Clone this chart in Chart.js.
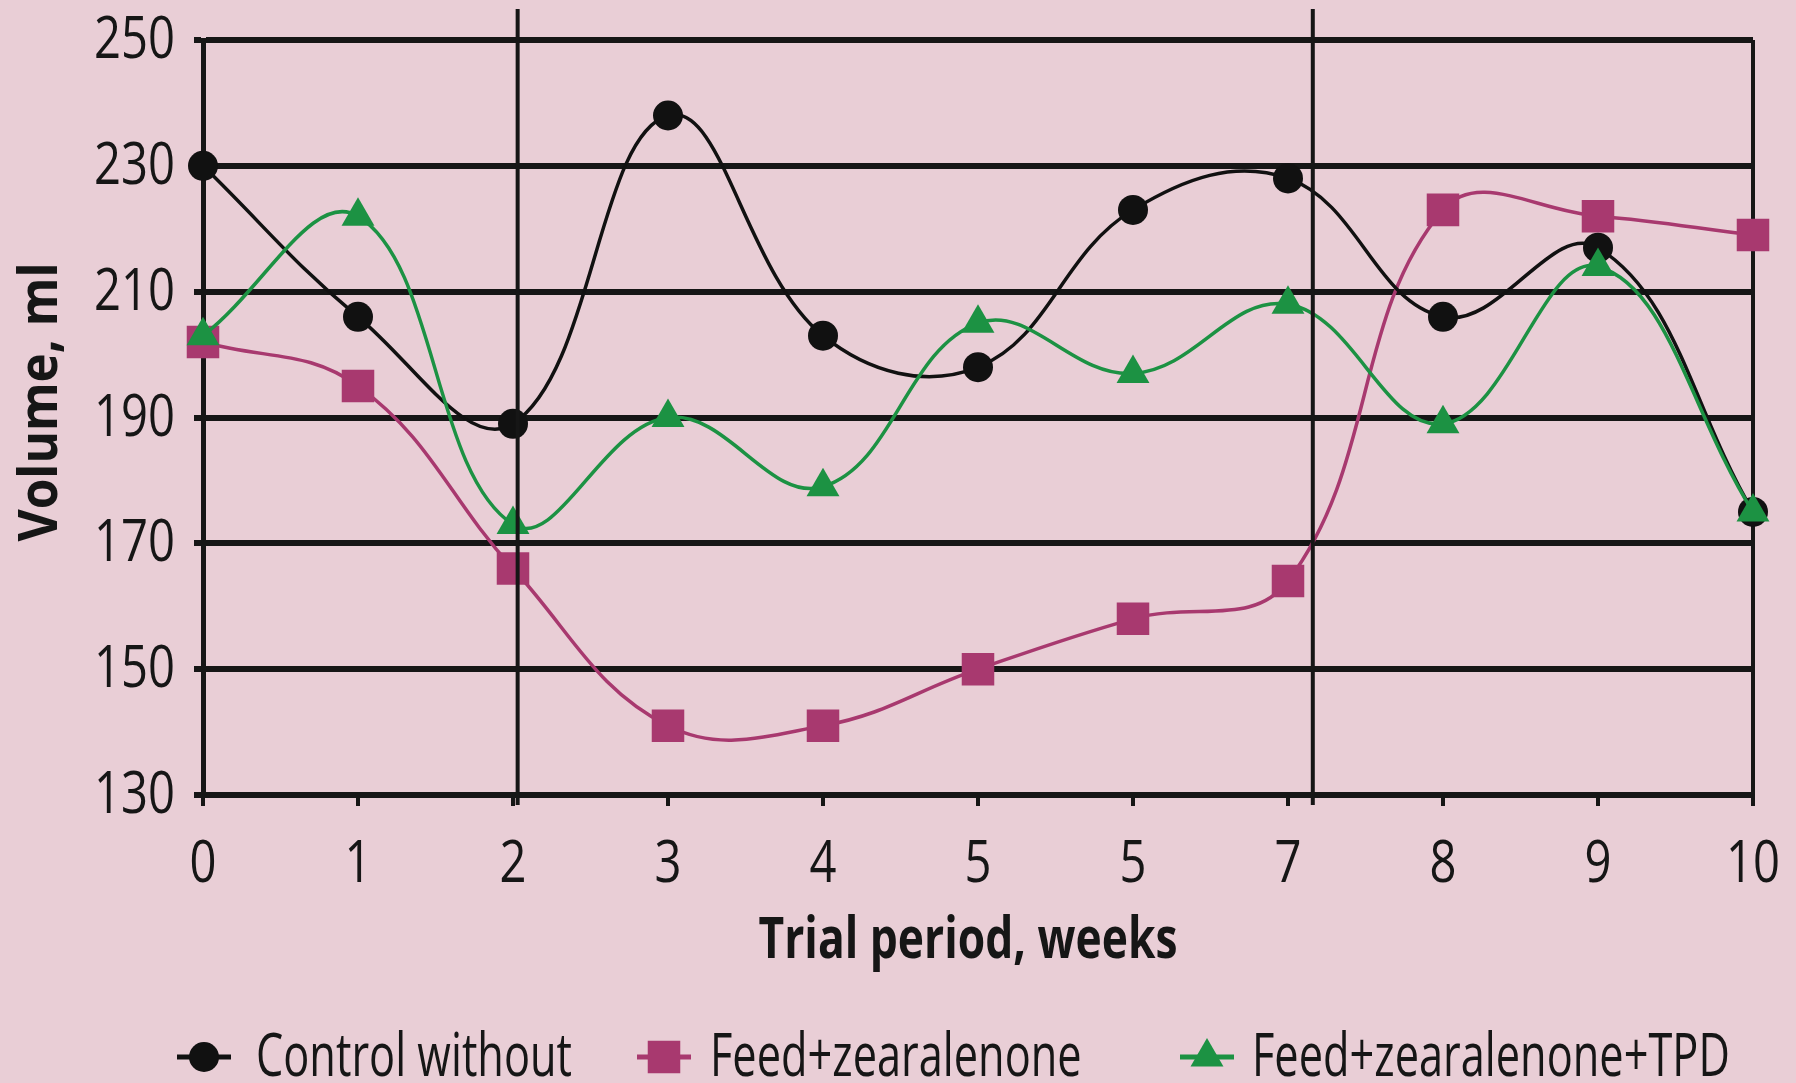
<!DOCTYPE html>
<html>
<head>
<meta charset="utf-8">
<script src="https://cdn.jsdelivr.net/npm/chart.js@4.4.1/dist/chart.umd.min.js"></script>
<style>
  html, body { margin: 0; padding: 0; background: #e9ced6; }
  #chart { display: block; }
</style>
</head>
<body>
<canvas id="chart" width="1796" height="1083"></canvas>
<script>
// values
const weeks = [0, 1, 2, 3, 4, 5, 6, 7, 8, 9, 10];
const weekLabels = ["0", "1", "2", "3", "4", "5", "5", "7", "8", "9", "10"];
const yTicks = [130, 150, 170, 190, 210, 230, 250];
const seriesNames = ["Control without", "Feed+zearalenone", "Feed+zearalenone+TPD"];
const control = [230, 206, 189, 238, 203, 198, 223, 228, 206, 217, 175];
const zearalenone = [202, 195, 166, 141, 141, 150, 158, 164, 223, 222, 219];
const zearalenoneTpd = [203, 222, 173, 190, 179, 205, 197, 208, 189, 214, 175];
const dividers = [2.03, 7.16];
const xTitle = "Trial period, weeks";
const yTitle = "Volume, ml";

const FONT = "'Open Sans', 'Noto Sans', sans-serif";
const INK = "#161616";

// the original uses a condensed face; squeeze a normal one horizontally
function squeeze(ctx, text, x, y, sx, align, rot) {
  ctx.save();
  ctx.translate(x, y);
  if (rot) ctx.rotate(rot);
  ctx.scale(sx, 1);
  ctx.textAlign = align;
  ctx.textBaseline = "alphabetic";
  ctx.fillText(text, 0, 0);
  ctx.restore();
}

// vertical separators that run above the plot
const dividerPlugin = {
  id: "dividers",
  afterDatasetsDraw(chart) {
    const { ctx, chartArea } = chart;
    const x = chart.scales.x;
    ctx.save();
    ctx.strokeStyle = INK;
    ctx.lineWidth = 4;
    dividers.forEach(v => {
      const px = x.getPixelForValue(v);
      ctx.beginPath();
      ctx.moveTo(px, 9);
      ctx.lineTo(px, chartArea.bottom + 10);
      ctx.stroke();
    });
    ctx.restore();
  }
};

// tick labels and axis titles
const axisTextPlugin = {
  id: "axisText",
  afterDraw(chart) {
    const { ctx, chartArea, scales } = chart;
    ctx.save();
    ctx.fillStyle = INK;
    ctx.font = "59px " + FONT;
    yTicks.forEach(v => {
      squeeze(ctx, String(v), 175, scales.y.getPixelForValue(v) + 18, 0.8, "right");
    });
    weeks.forEach((v, i) => {
      squeeze(ctx, weekLabels[i], scales.x.getPixelForValue(v), 882, 0.8, "center");
    });
    ctx.font = "bold 57px " + FONT;
    const cx = (chartArea.left + chartArea.right) / 2 - 10;
    squeeze(ctx, xTitle, cx, 958, 419 / ctx.measureText(xTitle).width, "center");
    ctx.font = "bold 53px " + FONT;
    squeeze(ctx, yTitle, 57, 402, 279 / ctx.measureText(yTitle).width, "center", -Math.PI / 2);
    ctx.restore();
  }
};

// legend with line-through-marker keys, spaced like the original
const legendPlugin = {
  id: "lineLegend",
  afterDraw(chart) {
    const ctx = chart.ctx;
    const y = 1057;
    const keys = [204, 664, 1207];
    const texts = [256, 710, 1252];
    ctx.save();
    ctx.font = "61px " + FONT;
    const sx = 316 / ctx.measureText(seriesNames[0]).width;
    chart.data.datasets.forEach((ds, i) => {
      const cx = keys[i];
      ctx.strokeStyle = ds.borderColor;
      ctx.lineWidth = 5;
      ctx.beginPath();
      ctx.moveTo(cx - 27, y);
      ctx.lineTo(cx + 27, y);
      ctx.stroke();
      ctx.fillStyle = ds.pointBackgroundColor;
      Chart.helpers.drawPoint(ctx, { pointStyle: ds.pointStyle, radius: ds.pointRadius, rotation: 0, borderWidth: 0 }, cx, y);
      ctx.fillStyle = INK;
      squeeze(ctx, ds.label, texts[i], 1076, sx, "left");
    });
    ctx.restore();
  }
};

new Chart(document.getElementById("chart"), {
  type: "line",
  data: {
    labels: weeks,
    datasets: [
      {
        label: seriesNames[0],
        data: control,
        borderColor: "#111111",
        pointBackgroundColor: "#111111",
        pointBorderWidth: 0,
        pointStyle: "circle",
        pointRadius: 15,
        borderWidth: 3.5,
        tension: 0.4,
        clip: false,
        order: 2
      },
      {
        label: seriesNames[1],
        data: zearalenone,
        borderColor: "#a8396f",
        pointBackgroundColor: "#a8396f",
        pointBorderWidth: 0,
        pointStyle: "rect",
        pointRadius: 23,
        borderWidth: 3.5,
        tension: 0.4,
        clip: false,
        order: 3
      },
      {
        label: seriesNames[2],
        data: zearalenoneTpd,
        borderColor: "#1c9243",
        pointBackgroundColor: "#1c9243",
        pointBorderWidth: 0,
        pointStyle: "triangle",
        pointRadius: 19,
        borderWidth: 3.5,
        tension: 0.4,
        clip: false,
        order: 1
      }
    ]
  },
  options: {
    responsive: false,
    devicePixelRatio: 1,
    animation: false,
    layout: { padding: { top: 40, right: 43, left: 0, bottom: 0 } },
    plugins: {
      legend: { display: false },
      tooltip: { enabled: false }
    },
    scales: {
      x: {
        type: "linear",
        min: 0,
        max: 10,
        afterBuildTicks: axis => { axis.ticks = weeks.map(v => ({ value: v })); },
        afterFit: axis => { axis.height = 288; },
        ticks: { display: false },
        grid: {
          color: c => (c.tick && c.tick.value === 10 ? INK : "rgba(0,0,0,0)"),
          tickColor: INK,
          lineWidth: 4,
          tickLength: 11
        },
        border: { color: INK, width: 5 }
      },
      y: {
        min: 130,
        max: 250,
        afterBuildTicks: axis => { axis.ticks = yTicks.map(v => ({ value: v })); },
        afterFit: axis => { axis.width = 203; },
        ticks: { display: false },
        grid: {
          color: INK,
          lineWidth: 6,
          tickLength: 9
        },
        border: { color: INK, width: 5 }
      }
    }
  },
  plugins: [dividerPlugin, axisTextPlugin, legendPlugin]
});
</script>
</body>
</html>
